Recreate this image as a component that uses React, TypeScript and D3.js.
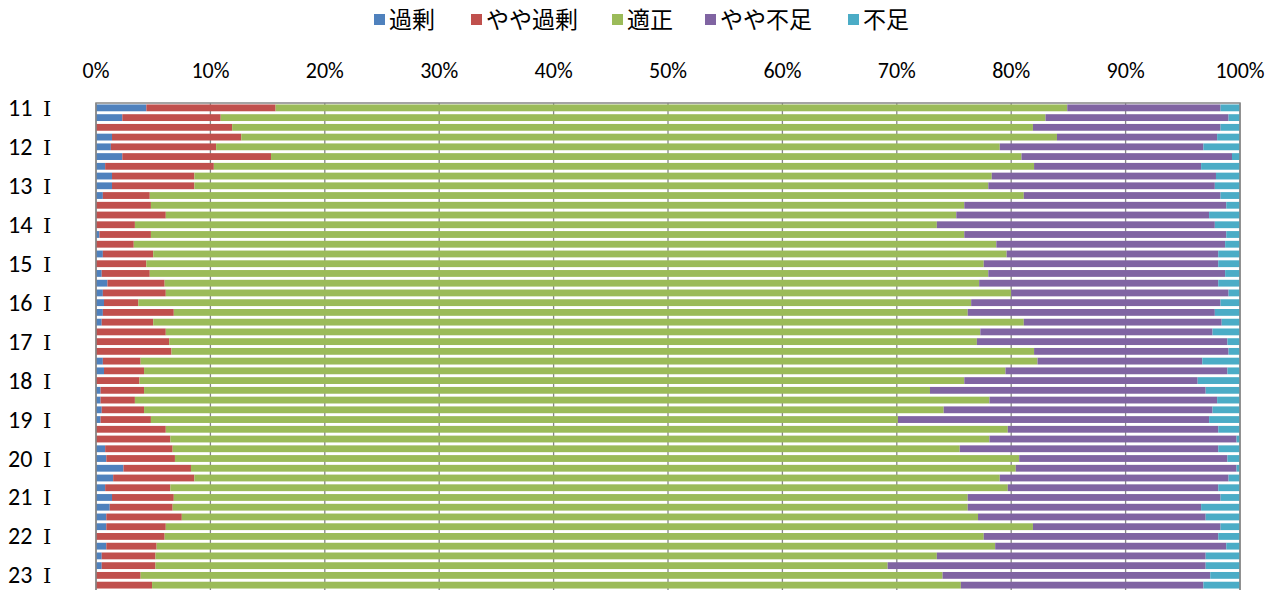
import * as d3 from 'd3';
import React, { useEffect, useRef } from 'react';

const years = [11, 12, 13, 14, 15, 16, 17, 18, 19, 20, 21, 22, 23];
const quarters = ['Ⅰ', 'Ⅱ', 'Ⅲ', 'Ⅳ'];
const seriesNames = ['過剰', 'やや過剰', '適正', 'やや不足', '不足'];
const seriesColors = ['#4F81BD', '#C0504D', '#9BBB59', '#8064A2', '#4BACC6'];
const tickValues = [0, 10, 20, 30, 40, 50, 60, 70, 80, 90, 100];

// 11 I ... 23 II
const kajou = [
  4.4, 2.3, 0, 1.4, 1.3, 2.3, 0.8, 1.4, 1.4, 0.6, 0, 0, 0, 0.3, 0, 0.6, 0, 0.5, 1.0, 0.6, 0.7, 0.6, 0.5, 0, 0,
  0, 0.6, 0.7, 0, 0.4, 0.4, 0.5, 0.4, 0, 0, 0.8, 0.9, 2.4, 1.5, 0.8, 1.4, 1.2, 0.9, 0.9, 0, 0.9, 0.5, 0.5, 0, 0,
];
const yayaKajou = [
  11.3, 8.6, 11.9, 11.3, 9.2, 13.0, 9.5, 7.2, 7.2, 4.1, 4.8, 6.1, 3.4, 4.5, 3.3, 4.4, 4.4, 4.2, 5.0, 5.5, 3.0, 6.2, 4.5, 6.1, 6.4,
  6.6, 3.3, 3.5, 3.8, 3.8, 3.0, 3.7, 4.4, 6.1, 6.5, 5.9, 6.0, 5.9, 7.1, 5.7, 5.4, 5.5, 6.6, 5.2, 6.0, 4.4, 4.7, 4.7, 3.9, 4.9,
];
const tekisei = [
  69.2, 72.1, 70.0, 71.3, 68.5, 65.6, 71.7, 69.7, 69.4, 76.4, 71.1, 69.1, 70.1, 71.1, 75.4, 74.6, 73.2, 73.3, 71.2, 73.9, 72.8, 69.4, 76.1, 71.2, 70.6,
  75.4, 78.4, 75.3, 72.1, 68.7, 74.7, 69.9, 65.3, 73.6, 71.6, 68.8, 73.8, 72.1, 70.4, 73.2, 69.4, 69.5, 69.6, 75.8, 71.6, 73.3, 68.3, 64.0, 70.1, 70.7,
];
const yayaFusoku = [
  13.4, 16.0, 16.4, 14.0, 17.8, 18.4, 14.6, 19.6, 19.8, 17.2, 22.9, 22.1, 24.3, 22.9, 20.0, 18.5, 20.5, 20.7, 20.9, 19.0, 21.8, 21.6, 17.3, 20.3, 21.9,
  17.0, 14.4, 19.4, 20.4, 24.1, 19.9, 23.5, 27.2, 18.4, 21.6, 22.6, 18.2, 19.3, 20.0, 18.4, 22.1, 20.4, 19.9, 16.4, 20.5, 20.2, 23.5, 27.8, 23.4, 21.2,
];
const fusoku = [
  1.7, 1.0, 1.7, 2.0, 3.2, 0.7, 3.4, 2.1, 2.2, 1.7, 1.2, 2.7, 2.2, 1.2, 1.3, 1.9, 1.9, 1.3, 1.9, 1.0, 1.7, 2.2, 1.6, 2.4, 1.1,
  1.0, 3.3, 1.1, 3.7, 3.0, 2.0, 2.4, 2.7, 1.9, 0.3, 1.9, 1.1, 0.3, 1.0, 1.9, 1.7, 3.4, 3.0, 1.7, 1.9, 1.2, 3.0, 3.0, 2.6, 3.2,
];

const W = 1282;
const H = 594;
const margin = { left: 96, right: 42, top: 103, bottom: 4 };

const App = () => {
  const ref = useRef<SVGSVGElement>(null);

  useEffect(() => {
    document.body.style.margin = '0';
    drawChart();
  }, []);

  function drawChart() {
    const svg = d3.select(ref.current);
    svg.selectAll('*').remove();
    const font = 'Carlito, Calibri, "Noto Sans", sans-serif';
    const cjk = '"Noto Sans CJK JP", sans-serif';

    const categories: string[] = [];
    years.forEach((y) => quarters.forEach((q) => categories.push(`${y} ${q}`)));
    const cats = categories.slice(0, kajou.length);

    const rows = cats.map((c, i) => ({
      cat: c,
      [seriesNames[0]]: kajou[i],
      [seriesNames[1]]: yayaKajou[i],
      [seriesNames[2]]: tekisei[i],
      [seriesNames[3]]: yayaFusoku[i],
      [seriesNames[4]]: fusoku[i],
    }));

    const stack = d3.stack<any>().keys(seriesNames).offset(d3.stackOffsetExpand);
    const layers = stack(rows);

    const xScale = d3.scaleLinear().domain([0, 1]).range([margin.left, W - margin.right]);
    const yScale = d3
      .scaleBand()
      .domain(cats)
      .range([margin.top, H - margin.bottom])
      .paddingInner(0.3)
      .paddingOuter(0.15);

    // gridlines
    svg
      .append('g')
      .selectAll('line')
      .data(tickValues)
      .join('line')
      .attr('x1', (d) => xScale(d / 100))
      .attr('x2', (d) => xScale(d / 100))
      .attr('y1', margin.top)
      .attr('y2', H - margin.bottom)
      .attr('stroke', '#878787')
      .attr('stroke-width', 1.3);

    svg
      .append('g')
      .selectAll('g')
      .data(layers)
      .join('g')
      .attr('fill', (d, i) => seriesColors[i])
      .selectAll('rect')
      .data((d) => d)
      .join('rect')
      .attr('x', (d) => xScale(d[0]))
      .attr('width', (d) => xScale(d[1]) - xScale(d[0]))
      .attr('y', (d: any) => yScale(d.data.cat)!)
      .attr('height', yScale.bandwidth());

    // plot border
    svg
      .append('path')
      .attr('d', `M${margin.left},${H - margin.bottom}V${margin.top}H${W - margin.right}V${H - margin.bottom}`)
      .attr('fill', 'none')
      .attr('stroke', '#878787')
      .attr('stroke-width', 1.5);

    // top axis labels
    svg
      .append('g')
      .selectAll('text')
      .data(tickValues)
      .join('text')
      .attr('x', (d) => xScale(d / 100))
      .attr('y', 78)
      .attr('text-anchor', 'middle')
      .attr('font-family', font)
      .attr('font-size', 22)
      .attr('fill', '#000')
      .text((d) => `${d}%`);

    // category labels (only quarter I shown)
    const labels = svg
      .append('g')
      .selectAll('text')
      .data(cats.filter((c) => c.endsWith('Ⅰ')))
      .join('text')
      .attr('x', 8)
      .attr('y', (d) => yScale(d)! + yScale.bandwidth() / 2 + 8)
      .attr('font-size', 24)
      .attr('fill', '#000');
    labels
      .append('tspan')
      .attr('font-family', font)
      .text((d) => d.split(' ')[0]);
    labels
      .append('tspan')
      .attr('x', 43)
      .attr('font-family', '"DejaVu Serif", "Liberation Serif", serif')
      .attr('font-size', 21)
      .text((d) => d.split(' ')[1]);

    // legend
    const legendX = [374, 471, 612, 705, 848];
    const legend = svg
      .append('g')
      .selectAll('g')
      .data(seriesNames)
      .join('g')
      .attr('transform', (d, i) => `translate(${legendX[i]},20)`);
    legend
      .append('rect')
      .attr('x', 0)
      .attr('y', -6)
      .attr('width', 11)
      .attr('height', 11)
      .attr('fill', (d, i) => seriesColors[i]);
    legend
      .append('text')
      .attr('x', 15)
      .attr('y', 8)
      .attr('font-family', cjk)
      .attr('font-size', 23)
      .attr('fill', '#000')
      .text((d) => d);
  }

  return <svg ref={ref} width={W} height={H} style={{ display: 'block' }} />;
};

export default App;
